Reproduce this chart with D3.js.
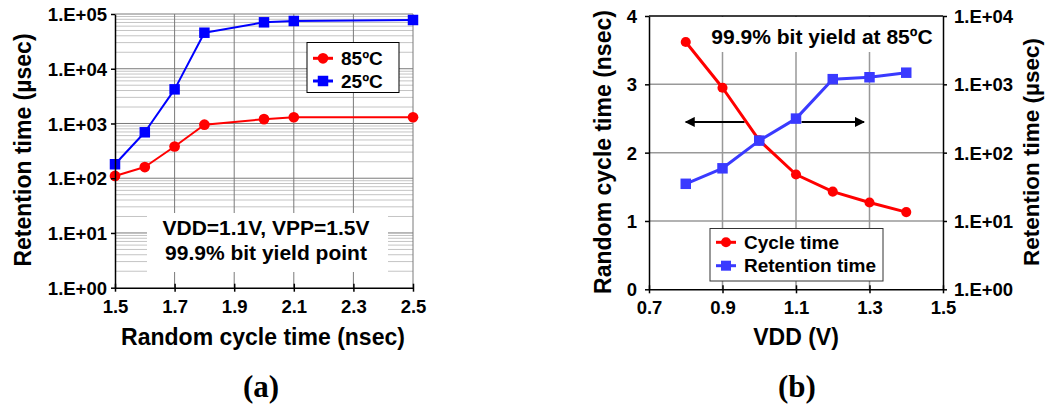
<!DOCTYPE html>
<html>
<head>
<meta charset="utf-8">
<script src="https://cdn.jsdelivr.net/npm/d3@7"></script>
<style>
  html, body { margin: 0; padding: 0; background: #fff; }
  svg text { font-family: "Liberation Sans", Arial, sans-serif; font-weight: bold; fill: #000; }
</style>
</head>
<body>
<svg id="chart" width="1045" height="406"></svg>
<script>
// ---- Panel (a): retention time vs random cycle time ----
const cycleA = [1.5, 1.6, 1.7, 1.8, 2.0, 2.1, 2.5];
const ret85 = [110, 160, 380, 950, 1200, 1300, 1300];
const ret25 = [180, 690, 4200, 45500, 70500, 74500, 77700];
const xTicksA = [1.5, 1.7, 1.9, 2.1, 2.3, 2.5];
const yTicksA = [1, 10, 100, 1000, 10000, 100000];
const seriesNamesA = ["85ºC", "25ºC"];
const noteA = ["VDD=1.1V, VPP=1.5V", "99.9% bit yield point"];

// ---- Panel (b): cycle time and retention time vs VDD ----
const vdd = [0.8, 0.9, 1.0, 1.1, 1.2, 1.3, 1.4];
const cycleB = [3.62, 2.95, 2.18, 1.68, 1.43, 1.27, 1.13];
const retB = [35, 59, 150, 315, 1190, 1270, 1480];
const xTicksB = [0.7, 0.9, 1.1, 1.3, 1.5];
const yTicksB = [0, 1, 2, 3, 4];
const yTicksB2 = [1, 10, 100, 1000, 10000];
const seriesNamesB = ["Cycle time", "Retention time"];
const noteB = "99.9% bit yield at 85ºC";

const RED = "#ff0000", BLUE_A = "#0000ff", BLUE_B = "#3a3aff";
const TICK_FS = 18.5, TITLE_FS = 23, NOTE_FS = 21, LEGEND_FS = 19, PANEL_FS = 31;
const sciFmt = v => "1.E+" + String(Math.round(Math.log10(v))).padStart(2, "0");

const svg = d3.select("#chart");
svg.append("rect").attr("width", 1045).attr("height", 406).attr("fill", "#fff");

function drawSeries(g, xs, ys, x, y, color, shape, width, size) {
  const pts = xs.map((v, i) => [x(v), y(ys[i])]);
  g.append("path").attr("d", d3.line()(pts)).attr("fill", "none")
    .attr("stroke", color).attr("stroke-width", width).attr("stroke-linejoin", "round");
  g.selectAll(null).data(pts).join("path")
    .attr("transform", d => `translate(${d[0]},${d[1]})`)
    .attr("d", d3.symbol(shape === "circle" ? d3.symbolCircle : d3.symbolSquare, size)())
    .attr("fill", color);
}

function legendEntry(g, x0, y0, color, shape, size, label, fs) {
  g.append("line").attr("x1", x0 - 10).attr("x2", x0 + 10).attr("y1", y0).attr("y2", y0)
    .attr("stroke", color).attr("stroke-width", 3);
  g.append("path").attr("transform", `translate(${x0},${y0})`)
    .attr("d", d3.symbol(shape === "circle" ? d3.symbolCircle : d3.symbolSquare, size)())
    .attr("fill", color);
  g.append("text").attr("x", x0 + 18).attr("y", y0 + 6.5).attr("font-size", fs).text(label);
}

function styleAxis(a) {
  a.select(".domain").attr("stroke", "#000").attr("stroke-width", 1.5);
  a.selectAll(".tick line").attr("stroke", "#000").attr("stroke-width", 1.5);
  a.selectAll(".tick text").attr("font-size", TICK_FS).attr("font-family", "Liberation Sans, Arial, sans-serif")
    .attr("font-weight", "bold").attr("fill", "#000");
}

// ================= Panel (a) =================
{
  const x = d3.scaleLinear().domain([1.5, 2.5]).range([115, 413]);
  const y = d3.scaleLog().domain([1, 1e5]).range([287.7, 14]);
  const g = svg.append("g");

  // minor log grid
  const minor = [];
  for (let d = 0; d < 5; d++) for (let k = 2; k <= 9; k++) minor.push(k * Math.pow(10, d));
  g.selectAll(null).data(minor).join("line")
    .attr("x1", x(1.5)).attr("x2", x(2.5)).attr("y1", d => y(d)).attr("y2", d => y(d))
    .attr("stroke", "#c4c4c4").attr("stroke-width", 1);
  // major grid
  g.selectAll(null).data(yTicksA.slice(1)).join("line")
    .attr("x1", x(1.5)).attr("x2", x(2.5)).attr("y1", d => y(d)).attr("y2", d => y(d))
    .attr("stroke", "#7a7a7a").attr("stroke-width", 1);
  g.selectAll(null).data(xTicksA.slice(1)).join("line")
    .attr("x1", d => x(d)).attr("x2", d => x(d)).attr("y1", y(1)).attr("y2", y(1e5))
    .attr("stroke", "#7a7a7a").attr("stroke-width", 1);

  // note box
  g.append("rect").attr("x", 147).attr("y", 213).attr("width", 241).attr("height", 59).attr("fill", "#fff");
  g.append("text").attr("x", 266).attr("y", 235).attr("text-anchor", "middle").attr("font-size", NOTE_FS).text(noteA[0]);
  g.append("text").attr("x", 266).attr("y", 260).attr("text-anchor", "middle").attr("font-size", NOTE_FS).text(noteA[1]);

  drawSeries(g, cycleA, ret85, x, y, RED, "circle", 2, 90);
  drawSeries(g, cycleA, ret25, x, y, BLUE_A, "square", 2, 110);

  // axes
  const ax = g.append("g").attr("transform", `translate(0,${y(1)})`)
    .call(d3.axisBottom(x).tickValues(xTicksA).tickFormat(d3.format(".1f")).tickSize(4).tickSizeOuter(0));
  const ay = g.append("g").attr("transform", `translate(${x(1.5)},0)`)
    .call(d3.axisLeft(y).tickValues(yTicksA).tickFormat(sciFmt).tickSize(4).tickSizeOuter(0));
  styleAxis(ax); styleAxis(ay);
  ax.selectAll(".tick line").attr("y1", -4);
  ax.selectAll(".tick text").attr("dy", null).attr("y", 25);
  ay.selectAll(".tick text").attr("x", -8).attr("dy", "0.36em");

  // legend
  const lg = g.append("g");
  lg.append("rect").attr("x", 307).attr("y", 42.5).attr("width", 92).attr("height", 50)
    .attr("fill", "#fff").attr("stroke", "#000").attr("stroke-width", 1);
  legendEntry(lg, 323, 58.3, RED, "circle", 90, seriesNamesA[0], LEGEND_FS);
  legendEntry(lg, 323, 81, BLUE_A, "square", 110, seriesNamesA[1], LEGEND_FS);

  // titles
  g.append("text").attr("transform", "translate(31,150) rotate(-90)").attr("text-anchor", "middle")
    .attr("font-size", TITLE_FS).text("Retention time (µsec)");
  g.append("text").attr("x", 263).attr("y", 345).attr("text-anchor", "middle")
    .attr("font-size", TITLE_FS).text("Random cycle time (nsec)");
  g.append("text").attr("x", 261).attr("y", 397).attr("text-anchor", "middle")
    .attr("font-size", PANEL_FS).style("font-family", "'Liberation Serif', 'Times New Roman', serif").text("(a)");
}

// ================= Panel (b) =================
{
  const x = d3.scaleLinear().domain([0.7, 1.5]).range([649, 943]);
  const y = d3.scaleLinear().domain([0, 4]).range([289.3, 16]);
  const y2 = d3.scaleLog().domain([1, 1e4]).range([289.3, 16]);
  const g = svg.append("g");

  // grid
  g.selectAll(null).data(yTicksB.slice(1, -1)).join("line")
    .attr("x1", x(0.7)).attr("x2", x(1.5)).attr("y1", d => y(d)).attr("y2", d => y(d))
    .attr("stroke", "#999").attr("stroke-width", 1.5);
  g.selectAll(null).data(xTicksB.slice(1, -1)).join("line")
    .attr("x1", d => x(d)).attr("x2", d => x(d)).attr("y1", y(0)).attr("y2", y(4))
    .attr("stroke", "#999").attr("stroke-width", 1.5);

  // note at top
  g.append("rect").attr("x", 705).attr("y", 17).attr("width", 236).attr("height", 35).attr("fill", "#fff");
  g.append("text").attr("x", 822).attr("y", 44).attr("text-anchor", "middle").attr("font-size", NOTE_FS).text(noteB);

  // arrows indicating which axis each curve belongs to
  const defs = svg.append("defs");
  defs.append("marker").attr("id", "ah").attr("viewBox", "0 0 10 10").attr("refX", 9).attr("refY", 5)
    .attr("markerWidth", 6).attr("markerHeight", 5).attr("orient", "auto-start-reverse")
    .attr("markerUnits", "strokeWidth")
    .append("path").attr("d", "M0,0L10,5L0,10Z").attr("fill", "#000");
  const ay0 = y(2.45);
  g.append("line").attr("x1", x(0.96)).attr("x2", x(0.8)).attr("y1", ay0).attr("y2", ay0)
    .attr("stroke", "#000").attr("stroke-width", 2).attr("marker-end", "url(#ah)");
  g.append("line").attr("x1", x(1.115)).attr("x2", x(1.285)).attr("y1", ay0).attr("y2", ay0)
    .attr("stroke", "#000").attr("stroke-width", 2).attr("marker-end", "url(#ah)");

  drawSeries(g, vdd, cycleB, x, y, RED, "circle", 3, 80);
  drawSeries(g, vdd, retB, x, y2, BLUE_B, "square", 3, 110);

  // plot frame top
  g.append("line").attr("x1", x(0.7)).attr("x2", x(1.5)).attr("y1", y(4)).attr("y2", y(4))
    .attr("stroke", "#000").attr("stroke-width", 1.5);

  // axes
  const ax = g.append("g").attr("transform", `translate(0,${y(0)})`)
    .call(d3.axisBottom(x).tickValues(xTicksB).tickFormat(d3.format(".1f")).tickSize(4).tickSizeOuter(0));
  const ayL = g.append("g").attr("transform", `translate(${x(0.7)},0)`)
    .call(d3.axisLeft(y).tickValues(yTicksB).tickFormat(d3.format("d")).tickSize(4).tickSizeOuter(0));
  const ayR = g.append("g").attr("transform", `translate(${x(1.5)},0)`)
    .call(d3.axisRight(y2).tickValues(yTicksB2).tickFormat(sciFmt).tickSize(4).tickSizeOuter(0));
  [ax, ayL, ayR].forEach(styleAxis);
  ax.selectAll(".tick line").attr("y1", -4);
  ax.selectAll(".tick text").attr("dy", null).attr("y", 25);
  ayL.selectAll(".tick text").attr("x", -12).attr("dy", "0.36em");
  ayR.selectAll(".tick text").attr("x", 11).attr("dy", "0.36em");

  // legend
  const lg = g.append("g");
  lg.append("rect").attr("x", 710).attr("y", 228.5).attr("width", 173).attr("height", 52.5)
    .attr("fill", "#fff").attr("stroke", "#333").attr("stroke-width", 1);
  legendEntry(lg, 726, 242.3, RED, "circle", 80, seriesNamesB[0], LEGEND_FS);
  legendEntry(lg, 726, 265.7, BLUE_B, "square", 100, seriesNamesB[1], LEGEND_FS);

  // titles
  g.append("text").attr("transform", "translate(611,152) rotate(-90)").attr("text-anchor", "middle")
    .attr("font-size", TITLE_FS).text("Random cycle time (nsec)");
  g.append("text").attr("transform", "translate(1039,152) rotate(-90)").attr("text-anchor", "middle")
    .attr("font-size", 22.5).text("Retention time (µsec)");
  g.append("text").attr("x", 796).attr("y", 345).attr("text-anchor", "middle")
    .attr("font-size", TITLE_FS).text("VDD (V)");
  g.append("text").attr("x", 797).attr("y", 397).attr("text-anchor", "middle")
    .attr("font-size", PANEL_FS).style("font-family", "'Liberation Serif', 'Times New Roman', serif").text("(b)");
}
</script>
</body>
</html>
